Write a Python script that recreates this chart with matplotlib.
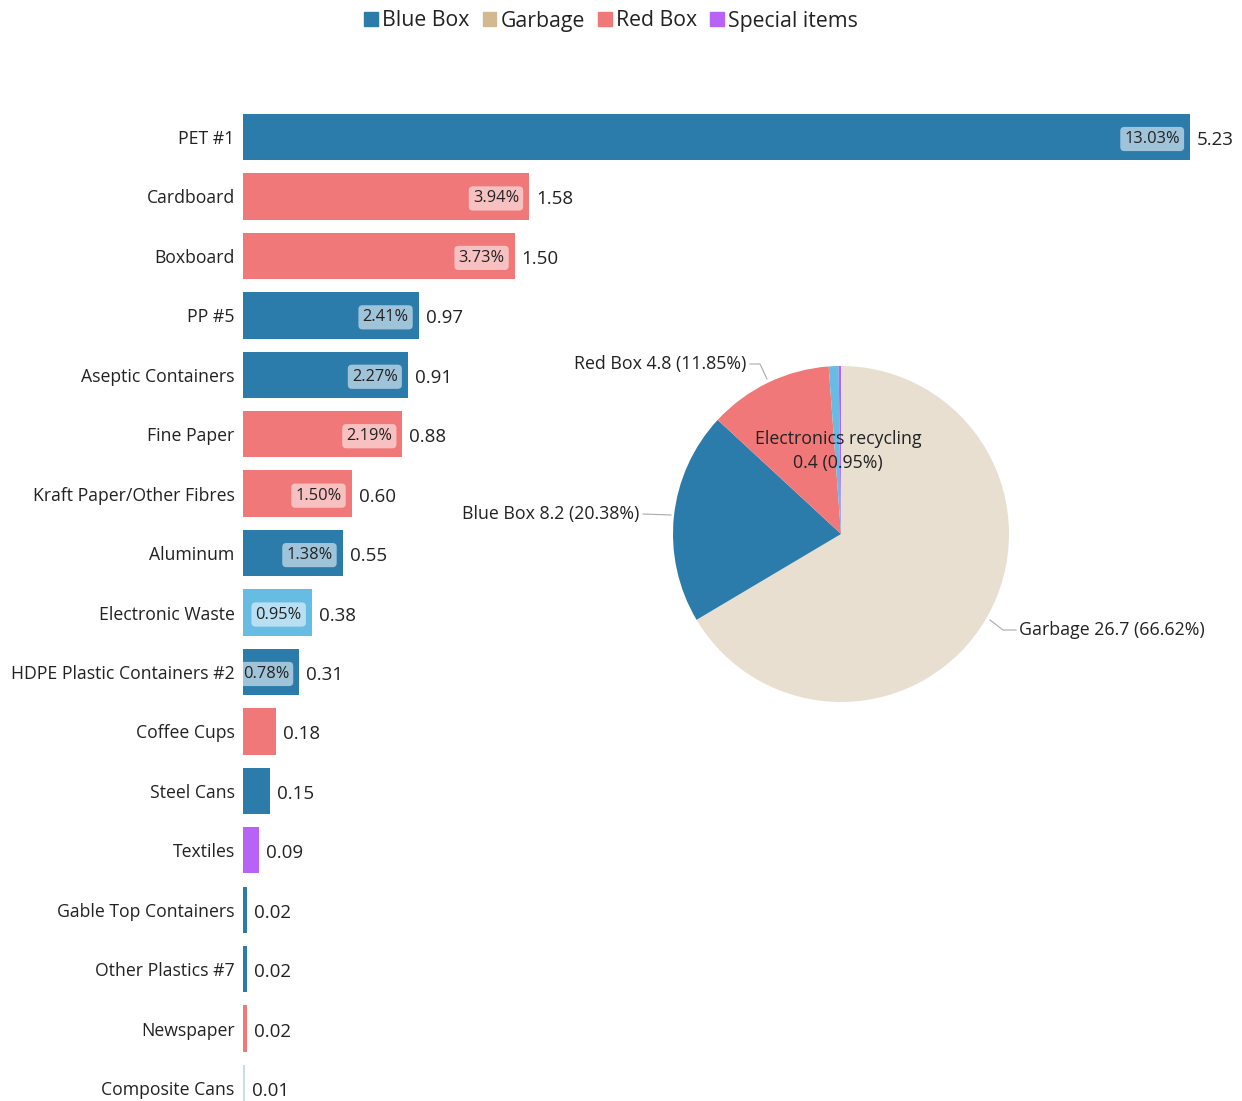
import matplotlib
matplotlib.use("Agg")
import matplotlib.pyplot as plt
from matplotlib.patches import Rectangle

plt.rcParams['font.family'] = ['Open Sans', 'DejaVu Sans']

# ---------------- data ----------------
categories = ["PET #1", "Cardboard", "Boxboard", "PP #5", "Aseptic Containers",
              "Fine Paper", "Kraft Paper/Other Fibres", "Aluminum", "Electronic Waste",
              "HDPE Plastic Containers #2", "Coffee Cups", "Steel Cans", "Textiles",
              "Gable Top Containers", "Other Plastics #7", "Newspaper", "Composite Cans"]
values = [5.23, 1.58, 1.50, 0.97, 0.91, 0.88, 0.60, 0.55, 0.38, 0.31,
          0.18, 0.15, 0.09, 0.02, 0.02, 0.02, 0.01]
groups = ["Blue Box", "Red Box", "Red Box", "Blue Box", "Blue Box", "Red Box", "Red Box",
          "Blue Box", "Electronics", "Blue Box", "Red Box", "Blue Box", "Special items",
          "Blue Box", "Blue Box", "Red Box", "Faded"]
pct_labels = ["13.03%", "3.94%", "3.73%", "2.41%", "2.27%", "2.19%", "1.50%",
              "1.38%", "0.95%", "0.78%", None, None, None, None, None, None, None]

pie_labels = ["Garbage", "Blue Box", "Red Box", "Electronics recycling", "Special items"]
pie_values = [26.7, 8.2, 4.8, 0.38, 0.09]
pie_texts = ["Garbage 26.7 (66.62%)", "Blue Box 8.2 (20.38%)", "Red Box 4.8 (11.85%)",
             "Electronics recycling\n0.4 (0.95%)", ""]

legend_labels = ["Blue Box", "Garbage", "Red Box", "Special items"]

# ---------------- styles ----------------
colors = {"Blue Box": "#2b7bab", "Red Box": "#f07878", "Electronics": "#66bce3",
          "Special items": "#b763f5", "Faded": "#c9dcea", "Garbage": "#e8dfd1"}
legend_colors = ["#2b7bab", "#d2b98f", "#f07878", "#b763f5"]
pie_colors = ["#e8dfd1", "#2b7bab", "#f07878", "#66bce3", "#b763f5"]
text_color = "#222222"

W, H = 1242, 1101
fig = plt.figure(figsize=(W / 100, H / 100), dpi=100)

# ---------------- bar chart ----------------
x0, x1 = 243, 1190
row0, step = 137, 59.44
top_px, bot_px = 107, 1101
ymin = -(row0 - top_px) / step
ymax = (bot_px - row0) / step
ax = fig.add_axes([x0 / W, 1 - bot_px / H, (x1 - x0) / W, (bot_px - top_px) / H])
ax.set_xlim(0, values[0])
ax.set_ylim(ymax, ymin)
ypos = list(range(len(categories)))
bar_colors = [colors[g] for g in groups]
ax.barh(ypos, values, height=0.78, color=bar_colors)
ax.set_yticks(ypos)
ax.set_yticklabels(categories, fontsize=12.7, color=text_color)
ax.tick_params(axis='y', length=0, pad=6)
ax.set_xticks([])
for s in ax.spines.values():
    s.set_visible(False)

for i, (v, p) in enumerate(zip(values, pct_labels)):
    ax.annotate(f"{v:.2f}", xy=(v, i), xytext=(7, -3), textcoords="offset pixels",
                ha="left", va="center", fontsize=13.5, color=text_color, annotation_clip=False)
    if p:
        ax.annotate(p, xy=(v, i), xytext=(-10, -2), textcoords="offset pixels",
                    ha="right", va="center", fontsize=11.8, color=text_color,
                    bbox=dict(boxstyle="round,pad=0.25,rounding_size=0.25",
                              fc="white", alpha=0.55, ec="none"))

# ---------------- pie chart ----------------
cx, cy, r = 841, 534, 168
pax = fig.add_axes([(cx - r) / W, 1 - (cy + r) / H, 2 * r / W, 2 * r / H])
pax.pie(pie_values, colors=pie_colors, startangle=90, counterclock=False, radius=1,
        wedgeprops=dict(linewidth=0))
pax.set_xlim(-1, 1)
pax.set_ylim(-1, 1)
pax.set_aspect('auto')
pax.axis('off')

def pd(px, py):
    return (px - cx) / r, (cy - py) / r

lc = "#aaaaaa"
fs_pie = 12.8
# Red Box
xs, ys = zip(pd(750, 364), pd(760, 364), pd(767, 379))
pax.plot(xs, ys, color=lc, lw=0.8, clip_on=False)
pax.text(*pd(746, 364), pie_texts[2], ha="right", va="center", fontsize=fs_pie, color=text_color)
# Blue Box
xs, ys = zip(pd(643, 514), pd(671, 515))
pax.plot(xs, ys, color=lc, lw=0.8, clip_on=False)
pax.text(*pd(639, 514), pie_texts[1], ha="right", va="center", fontsize=fs_pie, color=text_color)
# Garbage
xs, ys = zip(pd(990, 620), pd(1003, 630), pd(1016, 630))
pax.plot(xs, ys, color=lc, lw=0.8, clip_on=False)
pax.text(*pd(1019, 630), pie_texts[0], ha="left", va="center", fontsize=fs_pie, color=text_color)
# Electronics
pax.text(*pd(838, 451), pie_texts[3], ha="center", va="center", fontsize=fs_pie,
         color=text_color, linespacing=1.45)

# ---------------- legend ----------------
handles = [Rectangle((0, 0), 1, 1, color=c) for c in legend_colors]
fig.legend(handles, legend_labels, loc="center", bbox_to_anchor=(611 / W, 1 - 21 / H),
           ncol=4, frameon=False, fontsize=15.3, handlelength=0.65, handleheight=0.65,
           handletextpad=0.2, columnspacing=0.6, labelcolor=text_color)

fig.savefig("out.png", dpi=100)
